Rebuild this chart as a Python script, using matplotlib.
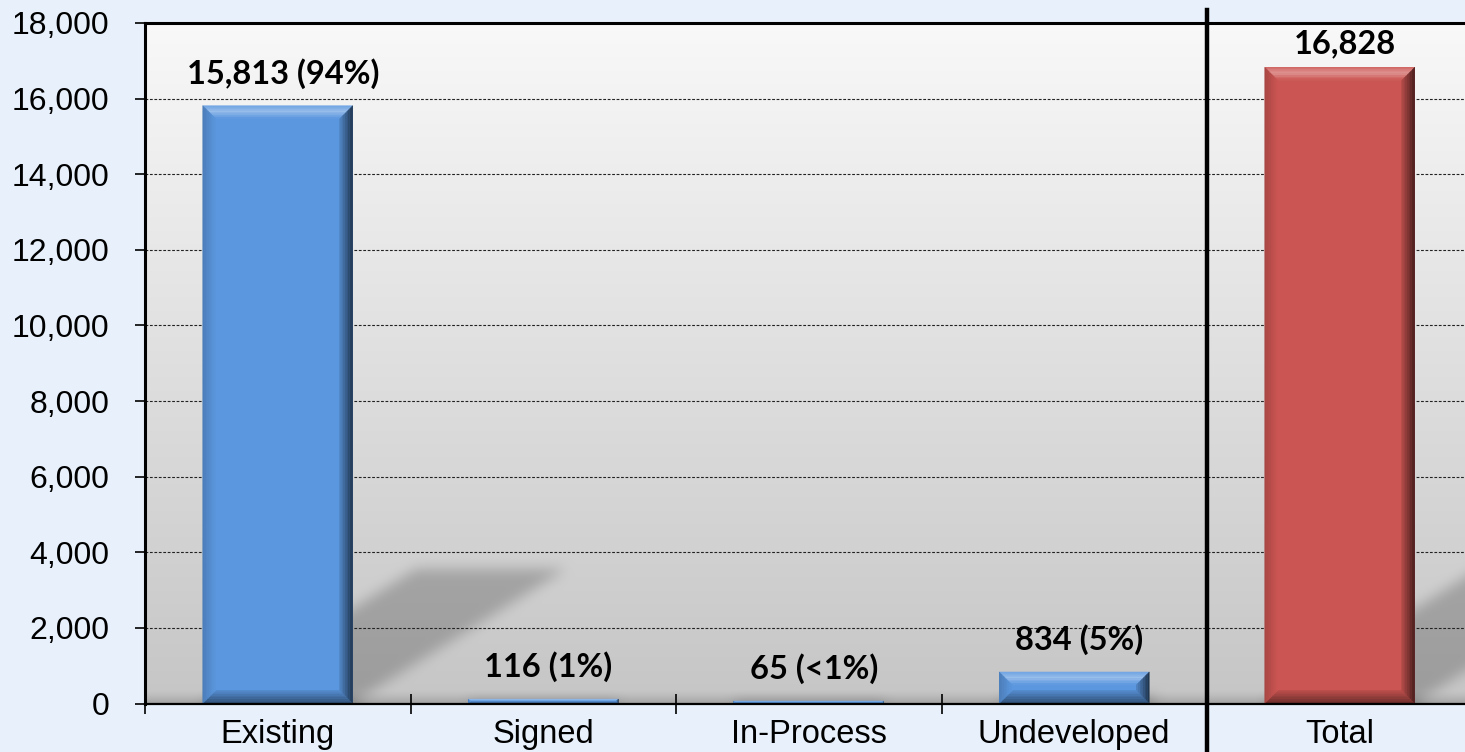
import numpy as np
import matplotlib
matplotlib.use("Agg")
import matplotlib.pyplot as plt
from matplotlib.patches import Polygon
from matplotlib.path import Path
from matplotlib.ticker import FuncFormatter

# ---- data -------------------------------------------------------------
categories = ["Existing", "Signed", "In-Process", "Undeveloped", "Total"]
counts = [15813, 116, 65, 834, 16828]
value_labels = ["15,813 (94%)", "116 (1%)", "65 (<1%)", "834 (5%)", "16,828"]
y_max = 18000
y_step = 2000

# ---- style ------------------------------------------------------------
FIG_BG = "#e8f1fb"
BLUE = "#5b97df"
RED = "#cb5552"
bar_colors = [BLUE, BLUE, BLUE, BLUE, RED]
BAR_WIDTH = 0.565
BEVEL_PX = 13

W, H = 1465, 752
fig = plt.figure(figsize=(W / 100, H / 100), dpi=100, facecolor=FIG_BG)
ax = fig.add_axes([145 / W, 48.5 / H, 1327.5 / W, 680.5 / H])
x = np.arange(len(categories))
ax.set_xlim(-0.5, len(categories) - 0.5)
ax.set_ylim(0, y_max)


def to_rgb(c):
    return np.array(matplotlib.colors.to_rgb(c))


def mix(c1, c2, t):
    return (1 - t) * to_rgb(c1) + t * to_rgb(c2)


# ---- plot-area background: vertical gradient, cast shadows, inner bevel ----
bbox = ax.get_window_extent()
ax_x0, ax_y0, ax_x1, ax_y1 = bbox.x0, bbox.y0, bbox.x1, bbox.y1
nx, ny = int(round(bbox.width)), int(round(bbox.height))
t = np.linspace(0, 1, ny)[:, None]
shade = (1 - t) * 0.975 + t * 0.775
shade = np.repeat(shade, nx, axis=1)

# bottom inner bevel
band = 14
ramp = np.clip((np.arange(ny) - (ny - band)) / band, 0, 1) ** 1.5
shade *= (1 - 0.18 * ramp)[:, None]

px = ax_x0 + (np.arange(nx) + 0.5) * bbox.width / nx
py = ax_y1 - (np.arange(ny) + 0.5) * bbox.height / ny
PX, PY = np.meshgrid(px, py)
pts = np.column_stack([PX.ravel(), PY.ravel()])

shadow = np.zeros((ny, nx))
SHEAR = 1.59
for xi, v in zip(x, counts):
    (bx0, by0) = ax.transData.transform((xi - BAR_WIDTH / 2, 0))
    (bx1, by1) = ax.transData.transform((xi + BAR_WIDTH / 2, v))
    hs = 0.225 * (by1 - by0)
    poly = Path([(bx0, by0), (bx1, by0), (bx1 + SHEAR * hs, by0 + hs),
                 (bx0 + SHEAR * hs, by0 + hs), (bx0, by0)])
    shadow = np.maximum(shadow, poly.contains_points(pts).reshape(ny, nx).astype(float))


def blur1d(a, r, axis):
    a = np.moveaxis(a, axis, 0)
    p = np.pad(a, ((r + 1, r), (0, 0)), mode="edge")
    c = np.cumsum(p, axis=0)
    out = (c[2 * r + 1:] - c[:-2 * r - 1]) / (2 * r + 1)
    return np.moveaxis(out, 0, axis)


for _ in range(2):
    shadow = blur1d(blur1d(shadow, 7, 0), 7, 1)
shade *= 1 - 0.21 * shadow

img = np.dstack([shade, shade, shade])
ax.imshow(img, extent=(-0.5, len(categories) - 0.5, 0, y_max), origin="upper",
          aspect="auto", zorder=0, interpolation="bilinear")
ax.set_xlim(-0.5, len(categories) - 0.5)
ax.set_ylim(0, y_max)

# ---- gridlines ----------------------------------------------------------
for gy in range(y_step, y_max, y_step):
    ax.axhline(gy, color="#222222", lw=0.8, ls=(0, (2.5, 1.5)), zorder=1)

# ---- bars with bevelled edges ------------------------------------------
bars = ax.bar(x, counts, width=BAR_WIDTH, color=bar_colors, linewidth=0, zorder=3)
inv = ax.transData.inverted()
N_STRIPS = 8


def add_strip(quad, color):
    data = inv.transform(np.array(quad))
    ax.add_patch(Polygon(data, closed=True, facecolor=color, edgecolor=color,
                         lw=0.3, zorder=4))


for rect, face in zip(bars, bar_colors):
    (x0, y0) = ax.transData.transform((rect.get_x(), 0))
    (x1, y1) = ax.transData.transform((rect.get_x() + rect.get_width(), rect.get_height()))
    b = min(BEVEL_PX, (y1 - y0) / 2, (x1 - x0) / 2)
    for k in range(N_STRIPS):
        t0, t1 = k / N_STRIPS, (k + 1) / N_STRIPS
        tm = (t0 + t1) / 2
        d0, d1 = t0 * b, t1 * b
        # top: highlight peaking mid-bevel
        if tm < 0.45:
            ctop = mix(mix(face, "white", 0.12), mix(face, "white", 0.38), tm / 0.45)
        else:
            ctop = mix(mix(face, "white", 0.38), face, (tm - 0.45) / 0.55)
        add_strip([(x0 + d0, y1 - d0), (x1 - d0, y1 - d0),
                   (x1 - d1, y1 - d1), (x0 + d1, y1 - d1)], ctop)
        # right: dark
        cr = mix(mix(face, "black", 0.68), mix(face, "black", 0.12), tm)
        add_strip([(x1 - d0, y1 - d0), (x1 - d0, y0 + d0),
                   (x1 - d1, y0 + d1), (x1 - d1, y1 - d1)], cr)
        # bottom
        cb = mix(mix(face, "black", 0.5), mix(face, "black", 0.08), tm)
        add_strip([(x0 + d0, y0 + d0), (x1 - d0, y0 + d0),
                   (x1 - d1, y0 + d1), (x0 + d1, y0 + d1)], cb)
        # left
        cl = mix(mix(face, "black", 0.18), face, tm)
        add_strip([(x0 + d0, y0 + d0), (x0 + d0, y1 - d0),
                   (x0 + d1, y1 - d1), (x0 + d1, y0 + d1)], cl)

# ---- value labels ------------------------------------------------------
for xi, v, lab in zip(x, counts, value_labels):
    top_px = ax.transData.transform((xi, v))[1]
    base_px = min(top_px + 22, ax_y1 - 30)
    y_lab = inv.transform((0, base_px))[1]
    ax.text(xi + 0.02, y_lab, lab, ha="center", va="baseline", fontsize=23.5,
            fontweight="bold", family=["Lato", "DejaVu Sans"], color="black", zorder=6)

# ---- divider before the total -----------------------------------------
ax.axvline(3.5, ymin=-0.08, ymax=1.0191, color="black", lw=3.2, clip_on=False, zorder=6)

# ---- axes, ticks, spines ----------------------------------------------
ax.set_yticks(np.arange(0, y_max + 1, y_step))
ax.yaxis.set_major_formatter(FuncFormatter(lambda v, p: f"{v:,.0f}"))
ax.set_xticks(x)
ax.set_xticklabels(categories)
ax.set_xticks([-0.5, 0.5, 1.5, 2.5], minor=True)
ax.tick_params(axis="y", direction="out", length=7.5, width=1.2, pad=18,
               labelsize=23, colors="black")
ax.tick_params(axis="x", which="major", length=0, pad=11, labelsize=23.5, colors="black")
ax.tick_params(axis="x", which="minor", direction="inout", length=14.5, width=1.2,
               colors="black")
for lab in ax.get_xticklabels() + ax.get_yticklabels():
    lab.set_family(["Liberation Sans", "DejaVu Sans"])

ax.spines["top"].set_linewidth(2.2)
ax.spines["left"].set_linewidth(2.2)
ax.spines["bottom"].set_linewidth(1.6)
ax.spines["right"].set_visible(False)
for s in ax.spines.values():
    s.set_color("black")
    s.set_zorder(7)

fig.savefig("out.png", dpi=100, facecolor=FIG_BG)
